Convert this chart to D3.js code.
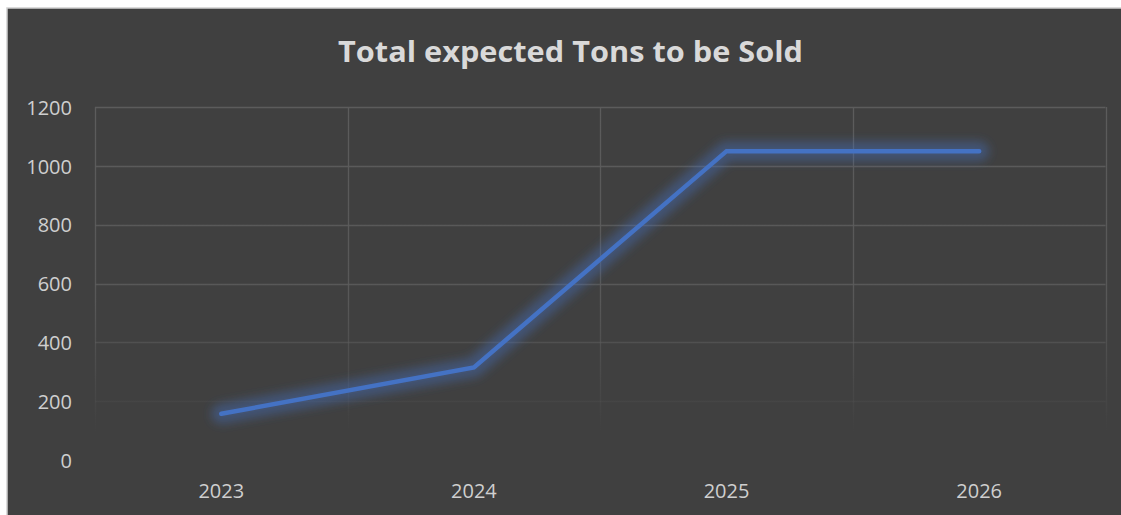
<!DOCTYPE html>
<html><head><meta charset="utf-8">
<script src="https://cdn.jsdelivr.net/npm/d3@7"></script>
<style>html,body{margin:0;padding:0;background:#fff;overflow:hidden}</style>
</head><body>
<svg id="c" width="1121" height="515"></svg>
<script>
const title = "Total expected Tons to be Sold";
const categories = ["2023", "2024", "2025", "2026"];
const values = [157, 315, 1050, 1050];
const yTicks = [0, 200, 400, 600, 800, 1000, 1200];

const W = 1121, H = 515;
const m = {left: 95, right: 1105.5, top: 107, bottom: 460};
const svg = d3.select("#c");
const defs = svg.append("defs");

const g1 = defs.append("linearGradient").attr("id","gridFade")
  .attr("gradientUnits","userSpaceOnUse").attr("x1",0).attr("x2",0)
  .attr("y1", m.top).attr("y2", m.bottom);
g1.append("stop").attr("offset","0%").attr("stop-color","#5c5c5c").attr("stop-opacity",1);
g1.append("stop").attr("offset","55%").attr("stop-color","#5c5c5c").attr("stop-opacity",0.85);
g1.append("stop").attr("offset","92%").attr("stop-color","#5c5c5c").attr("stop-opacity",0);

const f = defs.append("filter").attr("id","glow").attr("x","-20%").attr("y","-50%").attr("width","140%").attr("height","200%");
f.append("feGaussianBlur").attr("stdDeviation", 5);

// background
svg.append("rect").attr("x",0).attr("y",0).attr("width",W).attr("height",H).attr("fill","#ffffff");
svg.append("rect").attr("x",7).attr("y",8).attr("width",W).attr("height",H)
  .attr("fill","#404040").attr("stroke","#d0d0d0").attr("stroke-width",1.5);

const x = d3.scaleBand().domain(categories).range([m.left, m.right]).padding(0);
const y = d3.scaleLinear().domain([0, 1200]).range([m.bottom, m.top]);

// grid
const grid = svg.append("g");
grid.selectAll("line.h").data(yTicks.filter(d=>d>0)).join("line")
  .attr("x1", m.left).attr("x2", m.right)
  .attr("y1", d=>Math.round(y(d))+0.5).attr("y2", d=>Math.round(y(d))+0.5)
  .attr("stroke","url(#gridFade)").attr("stroke-width",1.3);
const vx = categories.map(c=>x(c)).concat([m.right]);
grid.selectAll("line.v").data(vx).join("line")
  .attr("x1", d=>Math.round(d)+0.5).attr("x2", d=>Math.round(d)+0.5)
  .attr("y1", m.top).attr("y2", m.bottom)
  .attr("stroke","url(#gridFade)").attr("stroke-width",1.3);

// axes (labels only)
const yAxis = svg.append("g").attr("transform",`translate(${m.left-23},0)`)
  .call(d3.axisLeft(y).tickValues(yTicks).tickFormat(d3.format("d")).tickSize(0).tickPadding(0));
yAxis.select(".domain").remove();
yAxis.selectAll("text").attr("fill","#cfcfcf").attr("font-family","'Open Sans', sans-serif").attr("font-size",20).attr("dy","0.36em");

const xAxis = svg.append("g").attr("transform",`translate(0,${m.bottom})`)
  .call(d3.axisBottom(x).tickSize(0).tickPadding(0));
xAxis.select(".domain").remove();
xAxis.selectAll("text").attr("fill","#cfcfcf").attr("font-family","'Open Sans', sans-serif").attr("font-size",20).attr("dy",0).attr("y",38);

// line
const pts = categories.map((c,i)=>[x(c)+x.bandwidth()/2, y(values[i])]);
const line = d3.line();
svg.append("path").attr("d", line(pts)).attr("fill","none")
  .attr("stroke","#4472c4").attr("stroke-width",20).attr("stroke-opacity",0.4)
  .attr("stroke-linecap","round").attr("stroke-linejoin","round").attr("filter","url(#glow)");
svg.append("path").attr("d", line(pts)).attr("fill","none")
  .attr("stroke","#4472c4").attr("stroke-width",4.5)
  .attr("stroke-linecap","round").attr("stroke-linejoin","miter");

// title
svg.append("text").attr("x", 570.5).attr("y", 62).attr("text-anchor","middle")
  .attr("font-family","'Open Sans', sans-serif").attr("font-weight","bold").attr("font-size",29)
  .attr("fill","#d9d9d9").attr("textLength",465).attr("lengthAdjust","spacingAndGlyphs")
  .text(title);
</script>
</body></html>
